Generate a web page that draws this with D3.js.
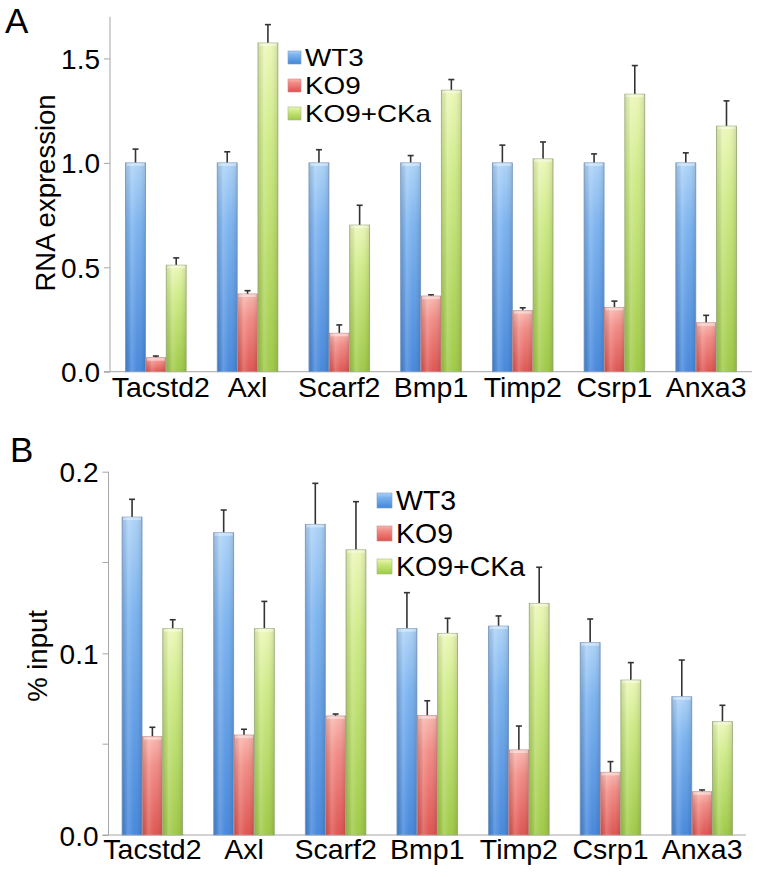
<!DOCTYPE html>
<html><head><meta charset="utf-8">
<script src="https://cdn.jsdelivr.net/npm/d3@7"></script>
<style>
html,body{margin:0;padding:0;background:#fff;}
svg{display:block;font-family:"Liberation Sans",Arial,Helvetica,sans-serif;}
</style></head>
<body>
<svg id="chart" width="762" height="877"></svg>
<script>
const categories = ["Tacstd2","Axl","Scarf2","Bmp1","Timp2","Csrp1","Anxa3"];
const series = ["WT3","KO9","KO9+CKa"];

// Panel A: RNA expression
const rnaWT3    = [1.00, 1.00, 1.00, 1.00, 1.00, 1.00, 1.00];
const rnaWT3Err = [0.066, 0.053, 0.063, 0.035, 0.085, 0.043, 0.048];
const rnaKO9    = [0.067, 0.372, 0.184, 0.362, 0.292, 0.308, 0.234];
const rnaKO9Err = [0.008, 0.016, 0.040, 0.006, 0.014, 0.030, 0.036];
const rnaCKa    = [0.510, 1.574, 0.702, 1.348, 1.019, 1.329, 1.176];
const rnaCKaErr = [0.035, 0.088, 0.095, 0.051, 0.081, 0.137, 0.121];
const ticksA = [0, 0.5, 1.0, 1.5];

// Panel B: % input
const chipWT3    = [0.1750, 0.1664, 0.1710, 0.1136, 0.1150, 0.1059, 0.0761];
const chipWT3Err = [0.0098, 0.0125, 0.0226, 0.0198, 0.0056, 0.0130, 0.0202];
const chipKO9    = [0.0541, 0.0550, 0.0655, 0.0657, 0.0468, 0.0345, 0.0238];
const chipKO9Err = [0.0052, 0.0032, 0.0011, 0.0082, 0.0132, 0.0059, 0.0010];
const chipCKa    = [0.1136, 0.1136, 0.1570, 0.1110, 0.1275, 0.0853, 0.0624];
const chipCKaErr = [0.0049, 0.0150, 0.0265, 0.0083, 0.0199, 0.0096, 0.0090];
const ticksB = [0, 0.1, 0.2];
const minorTicksB = [0.05, 0.15];

const svg = d3.select("#chart");
const defs = svg.append("defs");
const palette = {
  "WT3":     {top:"#acd2f7", mid:"#7ab2ef", bot:"#4486db", edge:"#7d9fc8"},
  "KO9":     {top:"#f9b6ae", mid:"#f18a84", bot:"#de524e", edge:"#c98a88"},
  "KO9+CKa": {top:"#ebf7b6", mid:"#cdea84", bot:"#9ec944", edge:"#a3b884"}
};
const gid = s => "g" + series.indexOf(s);
series.forEach(s => {
  const c = palette[s];
  const g = defs.append("linearGradient").attr("id", gid(s)).attr("x1",0).attr("y1",0).attr("x2",0).attr("y2",1);
  g.append("stop").attr("offset","0%").attr("stop-color",c.top);
  g.append("stop").attr("offset","30%").attr("stop-color",c.mid);
  g.append("stop").attr("offset","100%").attr("stop-color",c.bot);
});
const sh = defs.append("linearGradient").attr("id","shade").attr("x1",0).attr("y1",0).attr("x2",1).attr("y2",0);
sh.append("stop").attr("offset","0%").attr("stop-color","#000").attr("stop-opacity",0.10);
sh.append("stop").attr("offset","30%").attr("stop-color","#fff").attr("stop-opacity",0.18);
sh.append("stop").attr("offset","60%").attr("stop-color","#fff").attr("stop-opacity",0.03);
sh.append("stop").attr("offset","100%").attr("stop-color","#000").attr("stop-opacity",0.12);

function panel(cfg) {
  const g = svg.append("g");
  const x0 = d3.scaleBand().domain(categories).range(cfg.xr).paddingInner(0.33).paddingOuter(cfg.po);
  const x1 = d3.scaleBand().domain(series).range([0, x0.bandwidth()]).padding(0.02);
  const y = d3.scaleLinear().domain(cfg.domain).range(cfg.yr);

  // y axis
  const yAxis = d3.axisLeft(y).tickValues(cfg.ticks).tickFormat(d3.format(".1f")).tickSize(6).tickPadding(4);
  const ya = g.append("g").attr("transform", `translate(${cfg.xr[0]},0)`).call(yAxis);
  ya.select(".domain").attr("stroke","#a6a6a6").attr("d", `M0,${cfg.yr[0]}V${cfg.yr[1]}`);
  ya.selectAll(".tick line").attr("stroke","#a6a6a6");
  ya.selectAll(".tick text").attr("font-size",28).attr("fill","#000").attr("dy","0.36em")
    .attr("font-family","'Liberation Sans',Arial,sans-serif");
  if (cfg.minor) {
    g.append("g").selectAll("line").data(cfg.minor).join("line")
      .attr("x1", cfg.xr[0]-6).attr("x2", cfg.xr[0]).attr("y1", d=>y(d)).attr("y2", d=>y(d))
      .attr("stroke","#a6a6a6");
  }
  // x axis
  const xAxis = d3.axisBottom(x0).tickSize(0).tickPadding(cfg.xpad);
  const xa = g.append("g").attr("transform", `translate(0,${cfg.yr[0]})`).call(xAxis);
  xa.select(".domain").attr("stroke","#a6a6a6").attr("d", `M${cfg.xr[0]-6},0H${cfg.xr[1]}`);
  xa.selectAll(".tick text").attr("font-size",28.5).attr("fill","#000")
    .attr("font-family","'Liberation Sans',Arial,sans-serif")
    .attr("dx", (d,i) => i === 0 ? cfg.firstDx : 0);

  const rows = categories.map((c,i) => ({cat:c, vals: series.map((s,k)=>({s, v: cfg.vals[k][i], e: cfg.errs[k][i]}))}));
  const grp = g.append("g").selectAll("g").data(rows).join("g")
    .attr("transform", d => `translate(${x0(d.cat)},0)`);
  const bar = grp.selectAll("g").data(d=>d.vals).join("g");
  // error bars
  bar.append("line").attr("x1", d=>x1(d.s)+x1.bandwidth()/2).attr("x2", d=>x1(d.s)+x1.bandwidth()/2)
    .attr("y1", d=>y(d.v)).attr("y2", d=>y(d.v+d.e)).attr("stroke","#333").attr("stroke-width",1.6);
  bar.append("line").attr("x1", d=>x1(d.s)+x1.bandwidth()/2-3).attr("x2", d=>x1(d.s)+x1.bandwidth()/2+3)
    .attr("y1", d=>y(d.v+d.e)).attr("y2", d=>y(d.v+d.e)).attr("stroke","#333").attr("stroke-width",1.6);
  bar.append("rect").attr("x", d=>x1(d.s)).attr("width", x1.bandwidth())
    .attr("y", d=>y(d.v)).attr("height", d=>y(0)-y(d.v))
    .attr("fill", d=>`url(#${gid(d.s)})`).attr("stroke", d=>palette[d.s].edge).attr("stroke-width",0.9);
  bar.append("rect").attr("x", d=>x1(d.s)).attr("width", x1.bandwidth())
    .attr("y", d=>y(d.v)).attr("height", d=>y(0)-y(d.v)).attr("fill","url(#shade)");
  bar.append("rect").attr("x", d=>x1(d.s)+1).attr("width", x1.bandwidth()-2)
    .attr("y", d=>y(d.v)).attr("height", 3).attr("fill","#fff").attr("opacity",0.4);

  // y label
  g.append("text").attr("transform", `translate(${cfg.ylab[0]},${cfg.ylab[1]}) rotate(-90)`)
    .attr("text-anchor","middle").attr("font-size",cfg.ylabSize).text(cfg.ylabel);
  // panel letter
  g.append("text").attr("x", cfg.letter[0]).attr("y", cfg.letter[1]).attr("font-size",35).text(cfg.letterText);

  // legend
  const lg = g.append("g").selectAll("g").data(series).join("g")
    .attr("transform", (d,i)=>`translate(${cfg.leg.x},${cfg.leg.y + i*cfg.leg.dy})`);
  lg.append("rect").attr("x",0).attr("y",-cfg.leg.sq-2).attr("width",cfg.leg.sq).attr("height",cfg.leg.sq)
    .attr("fill", d=>`url(#${gid(d)})`).attr("stroke", d=>palette[d].edge).attr("stroke-width",0.6);
  lg.append("text").attr("transform", `translate(${cfg.leg.sq+4},0) scale(${cfg.leg.sx},1)`)
    .attr("font-size", cfg.leg.fs).text(d=>d);
}

panel({
  xr:[110, 752], po:0.165, domain:[0,1.7], yr:[371.7, 16.7], ticks:ticksA, xpad:5, firstDx:5,
  vals:[rnaWT3, rnaKO9, rnaCKa], errs:[rnaWT3Err, rnaKO9Err, rnaCKaErr],
  ylab:[55,193], ylabSize:27.5, ylabel:"RNA expression", letter:[5,33], letterText:"A",
  leg:{x:288, y:66, dy:28, sq:13, fs:24, sx:1.16}
});
panel({
  xr:[108.5, 746], po:0.144, domain:[0,0.2], yr:[835, 471.7], ticks:ticksB, minor:minorTicksB, xpad:4, firstDx:0,
  vals:[chipWT3, chipKO9, chipCKa], errs:[chipWT3Err, chipKO9Err, chipCKaErr],
  ylab:[47,656], ylabSize:27.5, ylabel:"% input", letter:[10,462], letterText:"B",
  leg:{x:377, y:510, dy:33, sq:15, fs:28.5, sx:1.0}
});
</script>
</body></html>
